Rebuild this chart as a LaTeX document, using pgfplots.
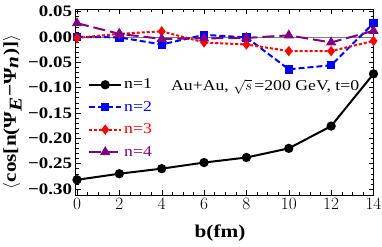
\documentclass[border=0pt]{standalone}
\usepackage{fontspec}
\setmainfont{Liberation Serif}[FakeStretch=1.18]
\usepackage{pgfplots}
\pgfplotsset{compat=1.18}
\definecolor{mpurple}{rgb}{0.5,0,0.5}
\begin{document}
\begin{tikzpicture}
\path[use as bounding box] (0,0) rectangle (382pt,246pt);
\begin{axis}[
 at={(75.5pt,51pt)}, anchor=south west,
 scale only axis, width=298pt, height=186pt,
 xmin=-0.07, xmax=14, ymin=-0.312, ymax=0.055,
 xtick={0,2,4,6,8,10,12,14},
 ytick={-0.30,-0.25,-0.20,-0.15,-0.10,-0.05,0,0.05},
 yticklabels={−0.30,−0.25,−0.20,−0.15,−0.10,−0.05,0.00,0.05},
 minor x tick num=3, minor y tick num=4,
 tick align=inside, major tick length=5pt, minor tick length=3pt,
 tick style={black, thin},
 axis line style={thin},
 ticklabel style={font=\fontsize{16}{16}\selectfont\bfseries},
 xlabel={b(fm)}, ylabel={$\langle$cos[n(Ψ$_{\textit{E}}$−Ψ$_{\textit{n}}$)]$\rangle$},
 label style={font=\fontsize{18}{18}\selectfont\bfseries},
 xlabel style={at={(axis description cs:0.485,-0.204)}, anchor=center},
 ylabel style={at={(axis description cs:-0.212,0.446)}, anchor=center},
 clip=false,
 legend style={at={(axis description cs:0.042,0.635)}, anchor=north west, draw=none, fill=none, inner sep=0pt,
   font=\fontsize{15}{15}\selectfont, row sep=7pt},
 legend cell align=left,
 legend image code/.code={\draw[mark repeat=2,mark phase=2,#1] plot coordinates {(0pt,0pt) (16pt,0pt) (32pt,0pt)};},
]
\addplot[gray, thin, forget plot] coordinates {(-0.07,0) (14,0)};
\addplot[black, line width=2pt, mark=*, mark size=3.6pt] coordinates {(0,-0.282) (2,-0.270) (4,-0.260) (6,-0.248) (8,-0.238) (10,-0.220) (12,-0.176) (14,-0.073)};
\addlegendentry{n=1}
\addplot[blue, line width=2pt, dash pattern=on 6pt off 3pt, mark=square*, mark size=3.2pt, mark options={solid}] coordinates {(0,0.000) (2,-0.001) (4,-0.015) (6,0.004) (8,-0.001) (10,-0.064) (12,-0.056) (14,0.027)};
\addlegendentry{\textcolor{blue}{n=2}}
\addplot[red, line width=2pt, dash pattern=on 3pt off 2pt, mark=diamond*, mark size=3.6pt, mark options={solid}] coordinates {(0,-0.002) (2,0.006) (4,0.011) (6,-0.011) (8,-0.015) (10,-0.028) (12,-0.028) (14,-0.008)};
\addlegendentry{\textcolor{red}{n=3}}
\addplot[mpurple, line width=2pt, dash pattern=on 12pt off 5pt, mark=triangle*, mark size=4pt, mark options={solid}] coordinates {(0,0.027) (2,0.006) (4,-0.004) (6,-0.003) (8,-0.002) (10,0.003) (12,-0.011) (14,0.012)};
\addlegendentry{\textcolor{mpurple}{n=4}}
\node[anchor=west, font=\fontsize{15}{15}\selectfont] at (axis cs:4.28,-0.0987) {Au+Au, $\sqrt{s}$\,=200 GeV, t=0};
\end{axis}
\end{tikzpicture}
\end{document}
